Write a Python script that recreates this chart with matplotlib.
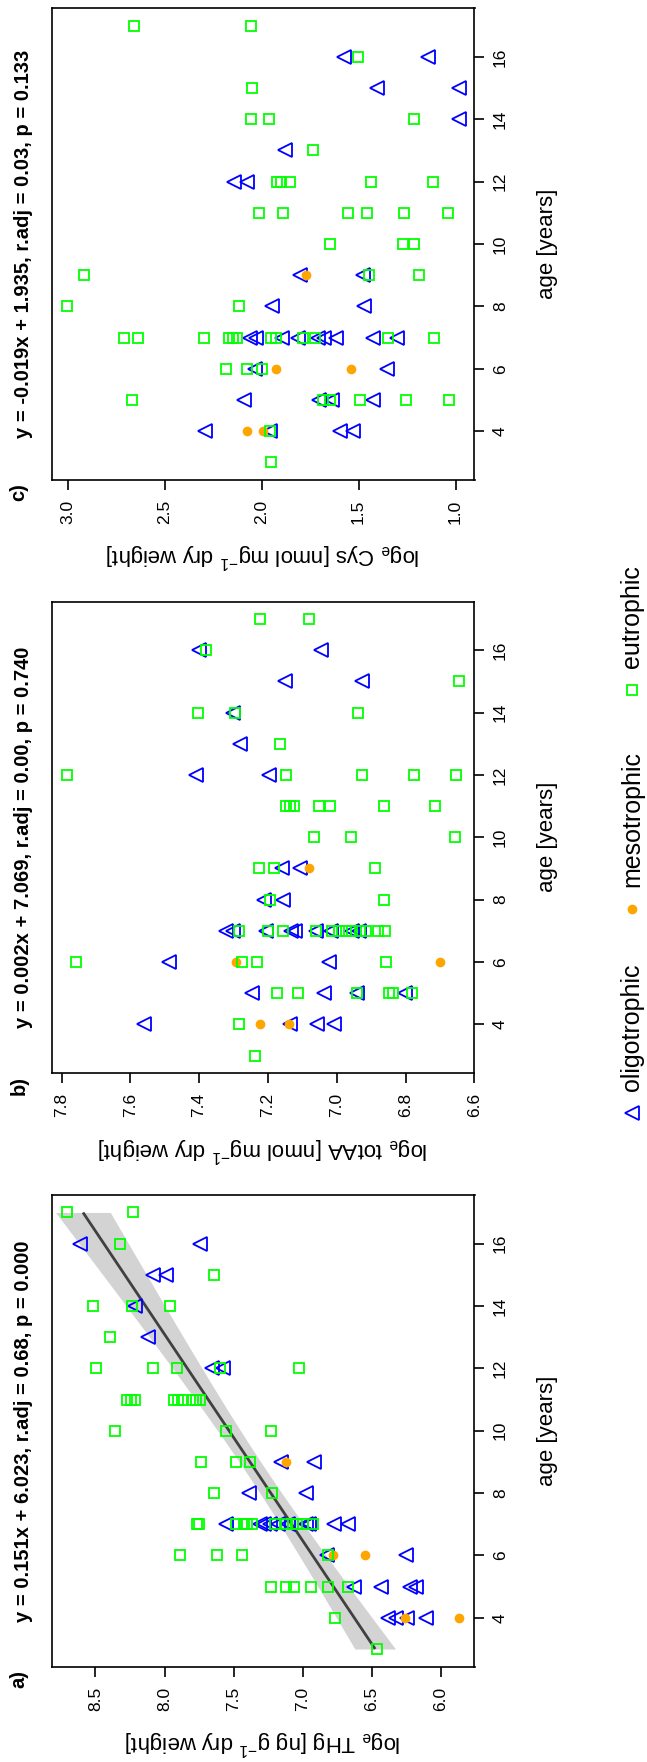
import numpy as np
import matplotlib
matplotlib.use("Agg")
import matplotlib.pyplot as plt

plt.rcParams['font.family'] = ['Liberation Sans', 'DejaVu Sans']
plt.rcParams['mathtext.fontset'] = 'custom'
plt.rcParams['mathtext.rm'] = 'Liberation Sans'
plt.rcParams['mathtext.it'] = 'Liberation Sans:italic'
plt.rcParams['mathtext.bf'] = 'Liberation Sans:bold'

# ---------------- data ----------------
age_ticks = [4, 6, 8, 10, 12, 14, 16]
groups = ["oligotrophic", "mesotrophic", "eutrophic"]

# a) total mercury
thg_oligo_age = [16, 16, 15, 15, 14, 13, 12, 12, 9, 9, 8, 8,
                 7, 7, 7, 7, 7, 7, 7, 7, 7, 7, 6, 6, 5, 5, 5, 5, 4, 4, 4, 4]
thg_oligo = [8.611, 7.740, 8.087, 7.993, 8.214, 8.118, 7.654, 7.577, 7.159, 6.916, 7.392, 6.975,
             7.553, 7.312, 7.283, 7.240, 7.180, 7.108, 6.975, 6.957, 6.771, 6.675,
             6.827, 6.255, 6.627, 6.434, 6.224, 6.180, 6.383, 6.323, 6.248, 6.110]
thg_meso_age = [9, 6, 6, 4, 4]
thg_meso = [7.120, 6.784, 6.548, 6.260, 5.871]
thg_eutro_age = [17, 17, 16, 15, 14, 14, 14, 13, 12, 12, 12, 12, 12,
                 11, 11, 11, 11, 11, 11, 11, 11, 11, 10, 10, 10, 9, 9, 9, 8, 8,
                 7, 7, 7, 7, 7, 7, 7, 7, 7, 7, 7, 7, 6, 6, 6, 6,
                 5, 5, 5, 5, 5, 5, 4, 3]
thg_eutro = [8.703, 8.226, 8.323, 7.644, 8.519, 8.238, 7.962, 8.395, 8.498, 8.082, 7.909, 7.601, 7.024,
             8.270, 8.241, 8.212, 7.933, 7.904, 7.875, 7.794, 7.769, 7.745, 8.359, 7.558, 7.233,
             7.733, 7.481, 7.380, 7.642, 7.224,
             7.762, 7.750, 7.486, 7.428, 7.404, 7.370, 7.204, 7.120, 7.072, 7.043, 7.000, 6.928,
             7.885, 7.618, 7.440, 6.820,
             7.228, 7.120, 7.060, 6.939, 6.820, 6.675, 6.764, 6.464]
thg_slope, thg_intercept = 0.151, 6.023

# b) total amino acids
aa_oligo_age = [16, 16, 15, 15, 14, 13, 12, 12, 9, 9, 8, 8,
                7, 7, 7, 7, 7, 7, 7, 7, 7, 6, 6, 5, 5, 5, 5, 4, 4, 4, 4]
aa_oligo = [7.400, 7.047, 7.151, 6.926, 7.301, 7.282, 7.410, 7.197, 7.158, 7.106, 7.210, 7.156,
            7.323, 7.302, 7.206, 7.134, 7.122, 7.059, 7.018, 6.957, 6.934,
            7.487, 7.023, 7.246, 7.036, 6.940, 6.801, 7.560, 7.136, 7.058, 7.009]
aa_meso_age = [9, 6, 6, 4, 4]
aa_meso = [7.081, 7.292, 6.700, 7.223, 7.138]
aa_eutro_age = [17, 17, 16, 15, 14, 14, 14, 13, 12, 12, 12, 12, 12,
                11, 11, 11, 11, 11, 11, 11, 10, 10, 10, 9, 9, 9, 8, 8,
                7, 7, 7, 7, 7, 7, 7, 7, 7, 7, 7, 7, 6, 6, 6, 6,
                5, 5, 5, 5, 5, 5, 4, 3]
aa_eutro = [7.224, 7.081, 7.379, 6.645, 7.402, 7.297, 6.939, 7.164, 7.783, 7.147, 6.926, 6.775, 6.654,
            7.147, 7.135, 7.123, 7.052, 7.019, 6.862, 6.714, 7.067, 6.958, 6.657,
            7.226, 7.183, 6.888, 7.195, 6.862,
            7.285, 7.199, 7.156, 7.059, 7.015, 6.992, 6.973, 6.955, 6.933, 6.914, 6.879, 6.859,
            7.758, 7.275, 7.232, 6.857,
            7.175, 7.114, 6.940, 6.848, 6.835, 6.781, 7.283, 7.238]

# c) cysteine
cys_oligo_age = [16, 16, 15, 15, 14, 13, 12, 12, 9, 9, 8, 8,
                 7, 7, 7, 7, 7, 7, 7, 7, 7, 6, 6, 5, 5, 5, 5, 4, 4, 4, 4]
cys_oligo = [1.575, 1.143, 1.405, 0.983, 0.983, 1.878, 2.141, 2.076, 1.801, 1.477, 1.947, 1.471,
             2.059, 2.028, 1.894, 1.811, 1.708, 1.677, 1.616, 1.425, 1.301,
             2.033, 1.352, 2.088, 1.706, 1.637, 1.426, 2.289, 1.957, 1.597, 1.529]
cys_meso_age = [9, 6, 6, 4, 4]
cys_meso = [1.771, 1.925, 1.538, 2.075, 1.993]
cys_eutro_age = [17, 17, 16, 15, 14, 14, 14, 13, 12, 12, 12, 12, 12,
                 11, 11, 11, 11, 11, 11, 10, 10, 10, 9, 9, 9, 8, 8,
                 7, 7, 7, 7, 7, 7, 7, 7, 7, 7, 7, 7, 6, 6, 6,
                 5, 5, 5, 5, 5, 5, 4, 3]
cys_eutro = [2.655, 2.056, 1.502, 2.047, 2.054, 1.964, 1.212, 1.735, 1.920, 1.900, 1.852, 1.434, 1.116,
             2.012, 1.890, 1.555, 1.455, 1.268, 1.041, 1.645, 1.272, 1.214,
             2.915, 1.445, 1.186, 3.001, 2.116,
             2.709, 2.637, 2.296, 2.167, 2.147, 2.126, 1.950, 1.925, 1.785, 1.723, 1.347, 1.111,
             2.183, 2.074, 1.997,
             2.669, 1.684, 1.646, 1.495, 1.255, 1.032, 1.957, 1.950]

panels = [
    dict(tag="a)", title="y = 0.151x + 6.023, r.adj = 0.68, p = 0.000",
         label=r"log$_{\mathregular{e}}$ THg [ng g$^{\mathregular{-1}}$ dry weight]",
         ticks=[6.0, 6.5, 7.0, 7.5, 8.0, 8.5], fmt="{:.1f}",
         data=[(thg_oligo_age, thg_oligo), (thg_meso_age, thg_meso), (thg_eutro_age, thg_eutro)],
         fit=(thg_slope, thg_intercept)),
    dict(tag="b)", title="y = 0.002x + 7.069, r.adj = 0.00, p = 0.740",
         label=r"log$_{\mathregular{e}}$ totAA [nmol mg$^{\mathregular{-1}}$ dry weight]",
         ticks=[6.6, 6.8, 7.0, 7.2, 7.4, 7.6, 7.8], fmt="{:.1f}",
         data=[(aa_oligo_age, aa_oligo), (aa_meso_age, aa_meso), (aa_eutro_age, aa_eutro)],
         fit=None),
    dict(tag="c)", title="y = -0.019x + 1.935, r.adj = 0.03, p = 0.133",
         label=r"log$_{\mathregular{e}}$ Cys [nmol mg$^{\mathregular{-1}}$ dry weight]",
         ticks=[1.0, 1.5, 2.0, 2.5, 3.0], fmt="{:.1f}",
         data=[(cys_oligo_age, cys_oligo), (cys_meso_age, cys_meso), (cys_eutro_age, cys_eutro)],
         fit=None),
]

# ---------------- styling ----------------
BLUE, ORANGE, GREEN = "#0000FF", "#FFA500", "#00FF00"
marker_styles = [
    dict(marker="<", ms=10, mfc="none", mec=BLUE, mew=1.3),
    dict(marker="o", ms=7, mfc=ORANGE, mec=ORANGE, mew=0),
    dict(marker="s", ms=7.3, mfc="none", mec=GREEN, mew=1.3),
]

W, H = 647, 1762
AX_L, AX_R = 51.7, 474.5
PANEL_H = 471.5
panel_tops = {"a)": 1195.0, "b)": 601.5, "c)": 8.3}

fig = plt.figure(figsize=(W / 100, H / 100), dpi=100)
fig.patch.set_facecolor("white")

for p in panels:
    top = panel_tops[p["tag"]]
    ax = fig.add_axes([AX_L / W, 1 - (top + PANEL_H) / H, (AX_R - AX_L) / W, PANEL_H / H])

    all_vals = np.concatenate([np.asarray(v, float) for _, v in p["data"]])
    all_ages = np.concatenate([np.asarray(a, float) for a, _ in p["data"]])
    vlo, vhi = all_vals.min(), all_vals.max()
    vpad = 0.04 * (vhi - vlo)
    alo, ahi = 3, 17
    apad = 0.04 * (ahi - alo)

    if p["fit"] is not None:
        slope, icpt = p["fit"]
        n = len(all_vals)
        resid = all_vals - (icpt + slope * all_ages)
        s = np.sqrt(np.sum(resid ** 2) / (n - 2))
        xbar = all_ages.mean()
        sxx = np.sum((all_ages - xbar) ** 2)
        t_crit = 1.987
        grid = np.linspace(alo, ahi, 200)
        fitv = icpt + slope * grid
        se = s * np.sqrt(1.0 / n + (grid - xbar) ** 2 / sxx)
        ax.fill_betweenx(grid, fitv - t_crit * se, fitv + t_crit * se,
                         color="#D3D3D3", lw=0, zorder=1)
        ax.plot(fitv, grid, color="#404040", lw=2.0, zorder=2, solid_capstyle="butt")

    for (ages, vals), st in zip(p["data"], marker_styles):
        ax.plot(vals, ages, ls="none", zorder=3, **st)

    ax.set_xlim(vhi + vpad, vlo - vpad)
    ax.set_ylim(alo - apad, ahi + apad)

    for sp in ax.spines.values():
        sp.set_linewidth(1.2)

    ax.set_xticks(p["ticks"], labels=[p["fmt"].format(t) for t in p["ticks"]],
                  rotation=90, fontsize=12.5)
    ax.set_yticks(age_ticks, labels=[str(t) for t in age_ticks],
                  rotation=90, fontsize=12.5, va="center")
    ax.tick_params(axis="x", direction="out", length=7.4, width=1.2, pad=7)
    ax.tick_params(axis="y", direction="out", length=7.4, width=1.2, pad=6,
                   left=False, right=True, labelleft=False, labelright=True)

    ax.set_xlabel(p["label"], fontsize=16, rotation=180, va="center", ha="center")
    ax.xaxis.set_label_coords(0.5, -76 / PANEL_H)
    ax.yaxis.set_label_position("right")
    ax.set_ylabel("age [years]", fontsize=16, rotation=90, va="center", ha="center")
    ax.yaxis.set_label_coords(1 + (547 - AX_R) / (AX_R - AX_L), 0.5)

    ax.text((24 - AX_L) / (AX_R - AX_L), 0.5, p["title"], transform=ax.transAxes,
            rotation=90, ha="center", va="center", fontsize=14.5, fontweight="bold")
    ax.text((19 - AX_L) / (AX_R - AX_L), -12.5 / PANEL_H, p["tag"], transform=ax.transAxes,
            rotation=90, ha="center", va="center", fontsize=14.5, fontweight="bold")

# legend, laid out along the right edge
lax = fig.add_axes([0, 0, 1, 1], zorder=5)
lax.set_xlim(0, W)
lax.set_ylim(H, 0)
lax.axis("off")
leg_x = 632
leg_y = [1113, 909, 690]
for name, st, y in zip(groups, marker_styles, leg_y):
    lax.plot([leg_x], [y], ls="none", **st)
    lax.text(leg_x, y - 22, name, rotation=90, rotation_mode="anchor",
             ha="left", va="center", fontsize=18)

fig.savefig("out.png", dpi=100, facecolor="white")
